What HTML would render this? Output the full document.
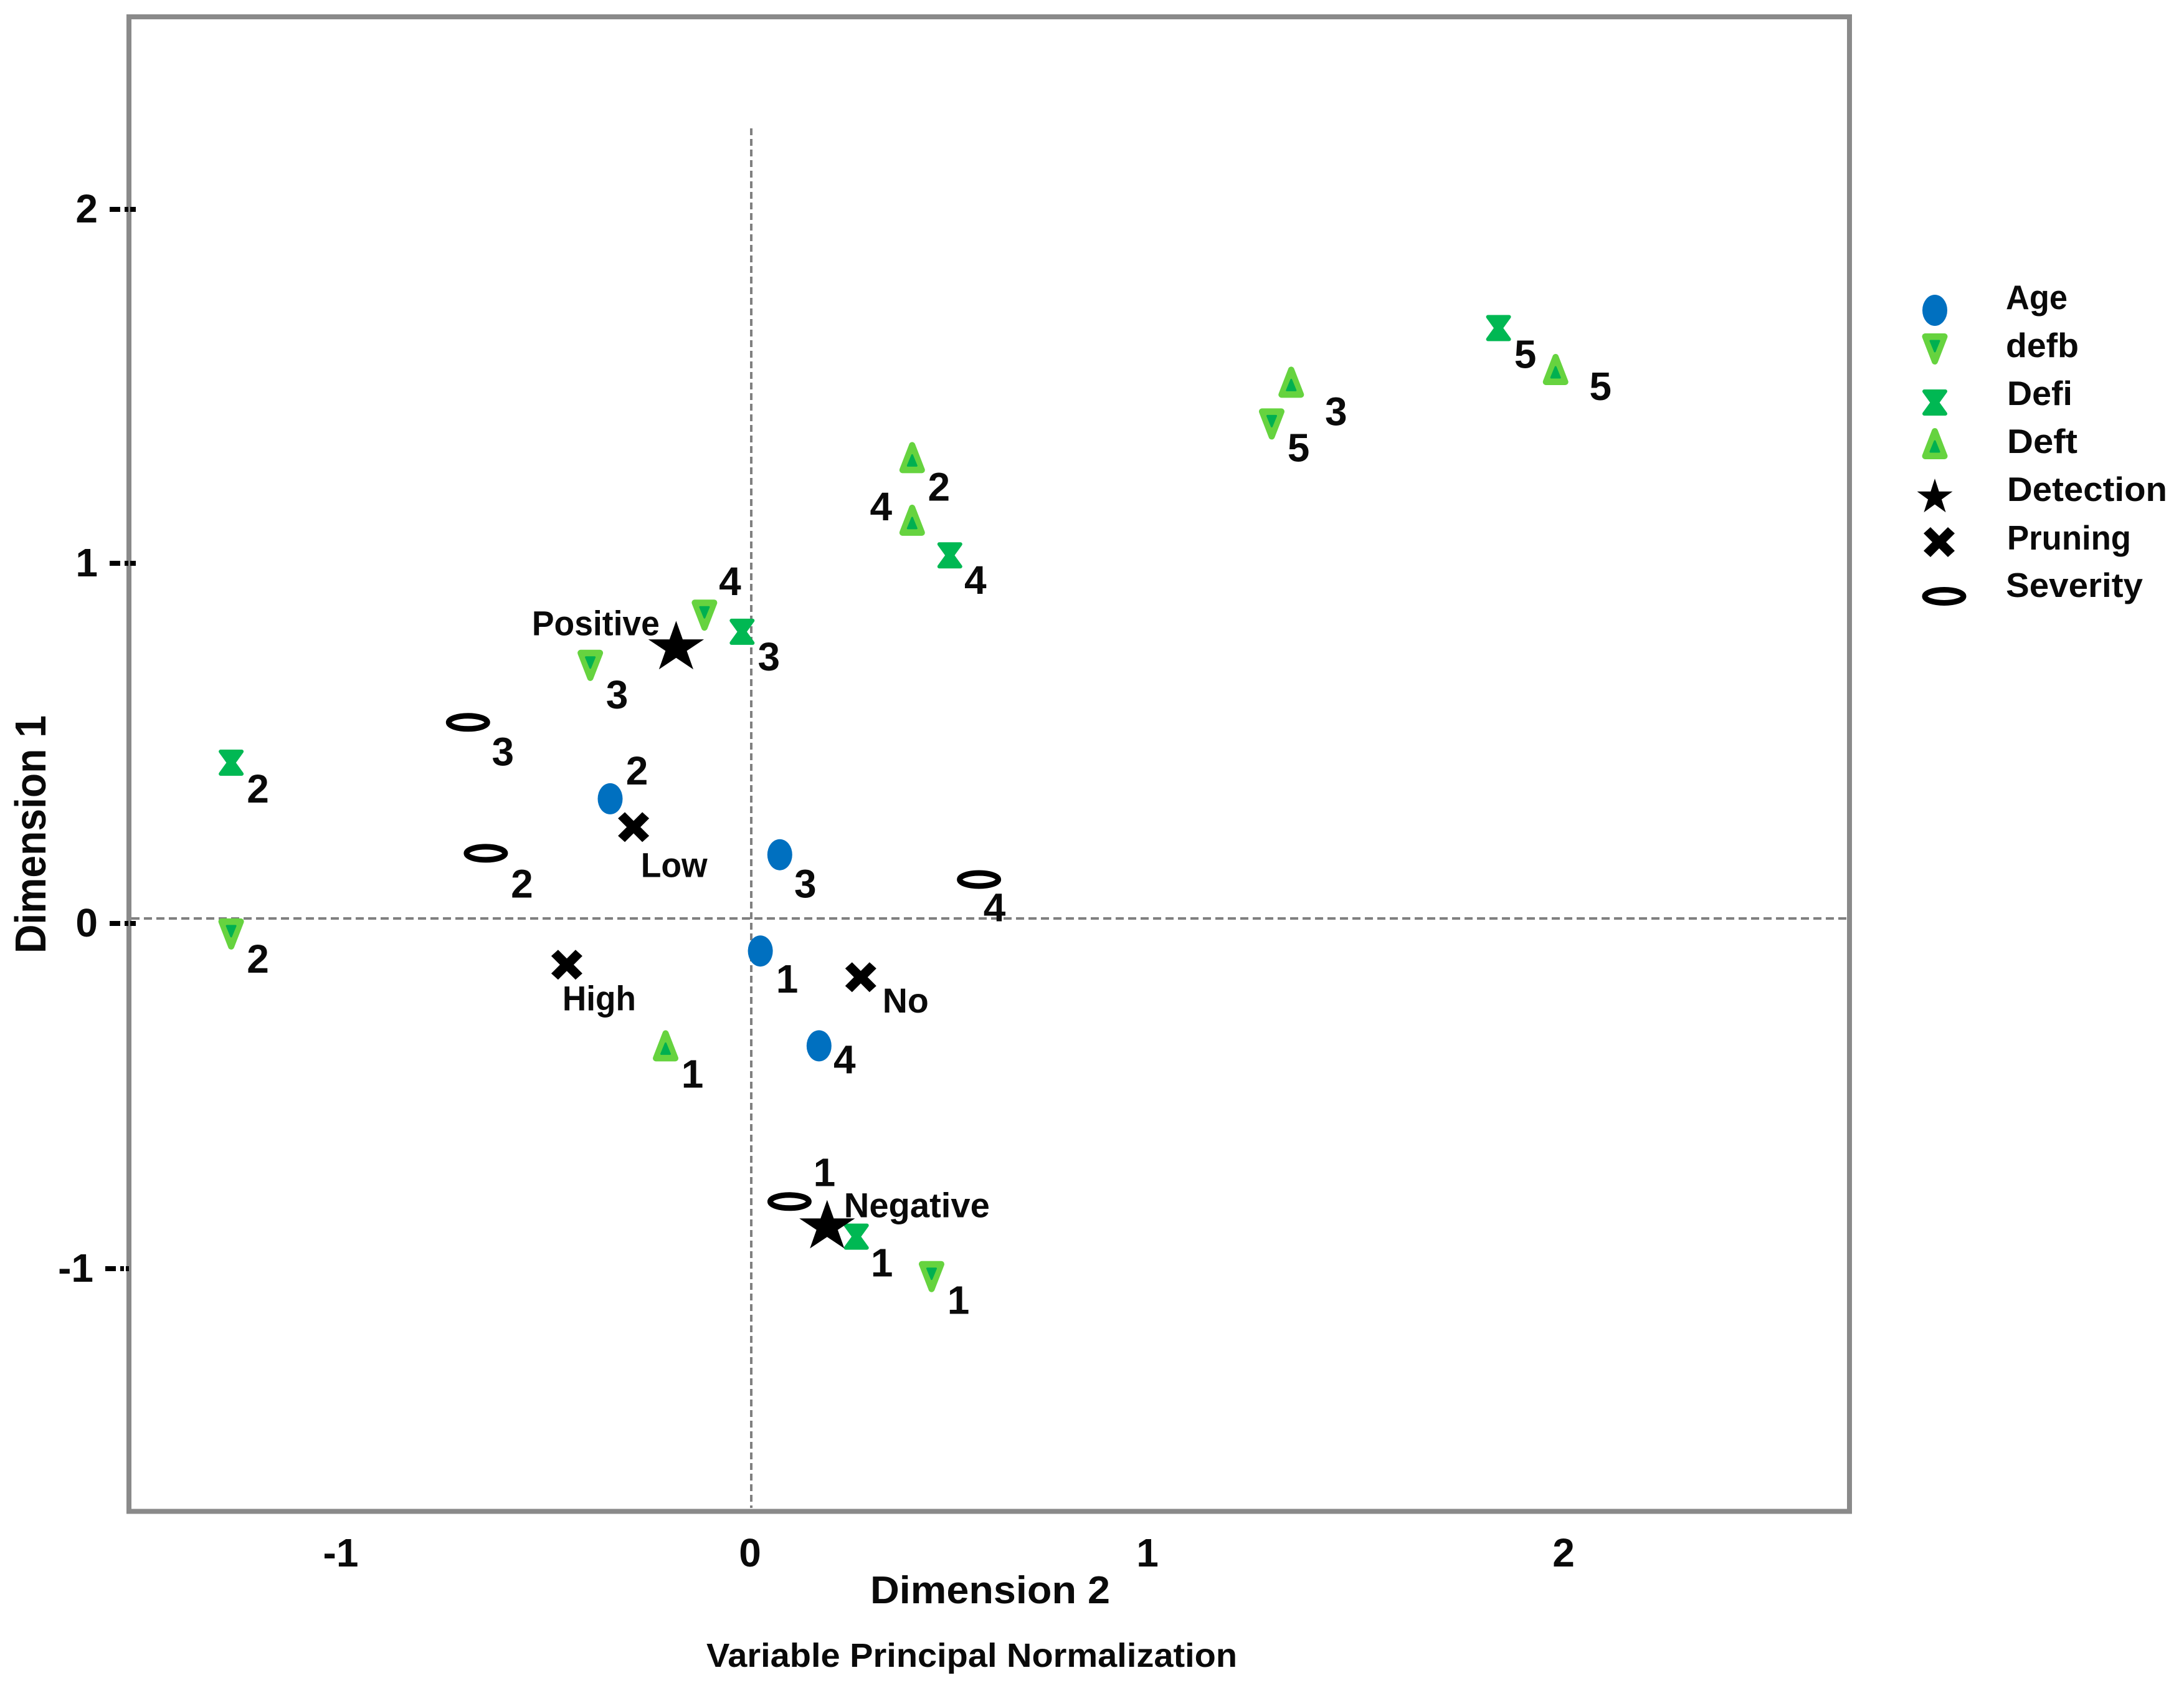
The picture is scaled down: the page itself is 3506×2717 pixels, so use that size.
<!DOCTYPE html>
<html lang="en">
<head>
<meta charset="utf-8">
<title>Variable Principal Normalization chart</title>
<style>
html,body{margin:0;padding:0;background:#fff;}
svg{display:block;}
text{font-family:"Liberation Sans",sans-serif;font-weight:bold;fill:#0a0a0a;}
</style>
</head>
<body>
<svg id="chart" xmlns="http://www.w3.org/2000/svg" width="3506" height="2717" viewBox="0 0 3506 2717">
  <rect x="0" y="0" width="3506" height="2717" fill="#ffffff"/>
  <rect x="207" y="27" width="2762" height="2398.5" fill="none" stroke="#8a8a8a" stroke-width="8"/>
  <line x1="211" y1="1474" x2="2965" y2="1474" stroke="#808080" stroke-width="4" stroke-dasharray="13 7"/>
  <line x1="1206" y1="206" x2="1206" y2="2420" stroke="#808080" stroke-width="4" stroke-dasharray="11 6"/>
  <text x="1397" y="2573" font-size="62" textLength="385" lengthAdjust="spacingAndGlyphs">Dimension 2</text>
  <text x="1134" y="2675" font-size="54" textLength="852" lengthAdjust="spacingAndGlyphs">Variable Principal Normalization</text>
  <text transform="translate(73 1530) rotate(-90)" font-size="70" textLength="382" lengthAdjust="spacingAndGlyphs">Dimension 1</text>
  <g id="ticks"></g>
  <g id="marks"></g>
  <g id="legend"></g>
</svg>
<script>
// Axis ticks
const xTickValues = [-1, 0, 1, 2];
const yTickValues = [2, 1, 0, -1];

// Age
const ageX = [0.024, -0.347, 0.072, 0.169];
const ageY = [-0.091, 0.339, 0.181, -0.359];
const ageLabels = ["1", "2", "3", "4"];

// defb
const defbX = [0.447, -1.283, -0.396, -0.114, 1.287];
const defbY = [-1.011, -0.043, 0.716, 0.858, 1.398];
const defbLabels = ["1", "2", "3", "4", "5"];

// Defi
const defiX = [0.261, -1.283, -0.021, 0.492, 1.847];
const defiY = [-0.898, 0.441, 0.811, 1.027, 1.669];
const defiLabels = ["1", "2", "3", "4", "5"];

// Deft
const deftX = [-0.210, 0.399, 1.335, 0.399, 1.988];
const deftY = [-0.359, 1.303, 1.516, 1.126, 1.552];
const deftLabels = ["1", "2", "3", "4", "5"];

// Detection
const detectionX = [-0.184, 0.189];
const detectionY = [0.766, -0.870];
const detectionLabels = ["Positive", "Negative"];

// Pruning
const pruningX = [-0.289, -0.454, 0.272];
const pruningY = [0.259, -0.130, -0.165];
const pruningLabels = ["Low", "High", "No"];

// Severity
const severityX = [0.096, -0.654, -0.698, 0.564];
const severityY = [-0.799, 0.185, 0.555, 0.111];
const severityLabels = ["1", "2", "3", "4"];

// Legend
const legendNames = ["Age", "defb", "Defi", "Deft", "Detection", "Pruning", "Severity"];

const SVG_NS = "http://www.w3.org/2000/svg";
const xScale = function (v) { return 1205 + 650 * v; };
const yScale = function (v) { return 1474.5 - 568 * v; };

const marksLayer = document.getElementById("marks");
const ticksLayer = document.getElementById("ticks");
const legendLayer = document.getElementById("legend");

function svgEl(tag, attrs) {
  const el = document.createElementNS(SVG_NS, tag);
  for (const k in attrs) el.setAttribute(k, attrs[k]);
  return el;
}

function slug(s) {
  return s.toLowerCase().replace(/[^a-z0-9]+/g, "-");
}

function starPoints(rx, ry) {
  const pts = [];
  for (let i = 0; i < 10; i++) {
    const a = -Math.PI / 2 + i * Math.PI / 5;
    const r = i % 2 === 0 ? 1 : 0.382;
    pts.push((rx * r * Math.cos(a)).toFixed(1) + "," + (ry * r * Math.sin(a)).toFixed(1));
  }
  return pts.join(" ");
}

function drawShape(g, kind, small) {
  if (kind === "age") {
    g.appendChild(svgEl("ellipse", { cx: 0, cy: 0, rx: 20, ry: 25, fill: "#0070c0" }));
  } else if (kind === "defb") {
    g.appendChild(svgEl("polygon", { points: "-15.5,-20 15.5,-20 0,20", fill: "#66d33f", stroke: "#66d33f", "stroke-width": 10, "stroke-linejoin": "round" }));
    g.appendChild(svgEl("polygon", { points: "-7,-13 7,-13 0,4", fill: "#00b050", stroke: "#00b050", "stroke-width": 3, "stroke-linejoin": "round" }));
  } else if (kind === "deft") {
    g.appendChild(svgEl("polygon", { points: "-15.5,20 15.5,20 0,-20", fill: "#66d33f", stroke: "#66d33f", "stroke-width": 10, "stroke-linejoin": "round" }));
    g.appendChild(svgEl("polygon", { points: "-7,13 7,13 0,-4", fill: "#00b050", stroke: "#00b050", "stroke-width": 3, "stroke-linejoin": "round" }));
  } else if (kind === "defi") {
    g.appendChild(svgEl("polygon", { points: "-17,-18 17,-18 4,0 17,18 -17,18 -4,0", fill: "#00b853", stroke: "#00b853", "stroke-width": 6, "stroke-linejoin": "round" }));
  } else if (kind === "detection") {
    const rx = small ? 30 : 47;
    const ry = small ? 30 : 43;
    g.appendChild(svgEl("polygon", { points: starPoints(rx, ry), fill: "#000000" }));
  } else if (kind === "pruning") {
    g.appendChild(svgEl("polygon", { points: "-25,-14 -14,-24 0,-10 14,-24 25,-14 11,0 25,14 14,24 0,10 -14,24 -25,14 -11,0", fill: "#000000" }));
  } else if (kind === "severity") {
    g.appendChild(svgEl("ellipse", { cx: 0, cy: 0, rx: 31, ry: 10.5, fill: "none", stroke: "#000000", "stroke-width": 9 }));
  }
}

function drawSeries(kind, xs, ys, labels, nudges, fontSize, widths) {
  xs.forEach(function (xv, i) {
    const px = xScale(xv);
    const py = yScale(ys[i]);
    const g = svgEl("g", { transform: "translate(" + px.toFixed(1) + " " + py.toFixed(1) + ")" });
    
    
    drawShape(g, kind, false);
    marksLayer.appendChild(g);

    const t = svgEl("text", { x: (px + nudges[i][0]).toFixed(1), y: (py + nudges[i][1]).toFixed(1), "font-size": fontSize, "text-anchor": "middle" });
    if (widths) {
      t.setAttribute("textLength", widths[i]);
      t.setAttribute("lengthAdjust", "spacingAndGlyphs");
    }
    
    
    t.textContent = labels[i];
    marksLayer.appendChild(t);
  });
}

// Label offsets from each marker centre (layout only, in px); digits sit 22px below centre line
const DIG = 22;
function off(dx, dy) { return [dx, dy + DIG]; }

drawSeries("severity", severityX, severityY, severityLabels, [off(56, -47), off(58, 49), off(56, 47), off(25, 45)], 64);
drawSeries("age", ageX, ageY, ageLabels, [off(43, 45), off(43, -45), off(41, 47), off(41, 22)], 64);
drawSeries("defb", defbX, defbY, defbLabels, [off(43, 38), off(43, 40), off(43, 47), off(41, -54), off(43, 38)], 64);
drawSeries("defi", defiX, defiY, defiLabels, [off(41, 42), off(43, 42), off(43, 40), off(41, 40), off(43, 42)], 64);
drawSeries("deft", deftX, deftY, deftLabels, [off(43, 45), off(43, 47), off(72, 47), off(-50, -22), off(72, 27)], 64);
drawSeries("detection", detectionX, detectionY, detectionLabels, [[-129, -20], [144, -15]], 56, [205, 234]);
drawSeries("pruning", pruningX, pruningY, pruningLabels, [[65, 80], [52, 73], [72, 57]], 56, [107, 118, 74]);

// X tick labels (hand placed slightly off the linear scale in the source figure)
const xLabelNudge = { "-1": -8, "0": -1, "1": -13, "2": 5 };
xTickValues.forEach(function (v) {
  const t = svgEl("text", { x: xScale(v) + xLabelNudge[v], y: 2514, "font-size": 64, "text-anchor": "middle" });
  
  
  t.textContent = String(v);
  ticksLayer.appendChild(t);
});

// Y ticks
const yTickNudge = { "2": -2.5, "1": -2.5, "0": 7.5, "-1": -6.5 };
yTickValues.forEach(function (v) {
  const y = yScale(v) + yTickNudge[v];
  const neg = v < 0;
  const t = svgEl("text", { x: neg ? 150 : 157, y: y + 21, "font-size": 64, "text-anchor": "end" });
  
  
  t.textContent = String(v);
  ticksLayer.appendChild(t);
  const d = svgEl("line", { x1: neg ? 169 : 176, y1: y, x2: neg ? 207 : 218, y2: y, stroke: "#000000", "stroke-width": 8, "stroke-dasharray": "17 7 6 3 10 3" });
  
  
  ticksLayer.appendChild(d);
});

// Legend
const legendKinds = ["age", "defb", "defi", "deft", "detection", "pruning", "severity"];
const legendMarkX = [3106, 3106, 3106, 3106, 3106, 3113, 3121];
const legendMarkY = [498, 560, 646, 712, 798, 870, 957];
const legendTextX = [3220, 3220, 3222, 3222, 3222, 3222, 3220];
const legendTextY = [496, 573, 650, 727, 804, 882, 958];
const legendTextW = [99, 117, 105, 113, 257, 199, 220];
legendNames.forEach(function (name, i) {
  const row = svgEl("g", {});
  
  
  const g = svgEl("g", { transform: "translate(" + legendMarkX[i] + " " + legendMarkY[i] + ")" });
  
  
  drawShape(g, legendKinds[i], true);
  row.appendChild(g);
  const t = svgEl("text", { x: legendTextX[i], y: legendTextY[i], "font-size": 55, textLength: legendTextW[i], lengthAdjust: "spacingAndGlyphs" });
  
  
  t.textContent = name;
  row.appendChild(t);
  legendLayer.appendChild(row);
});
</script>
</body>
</html>
